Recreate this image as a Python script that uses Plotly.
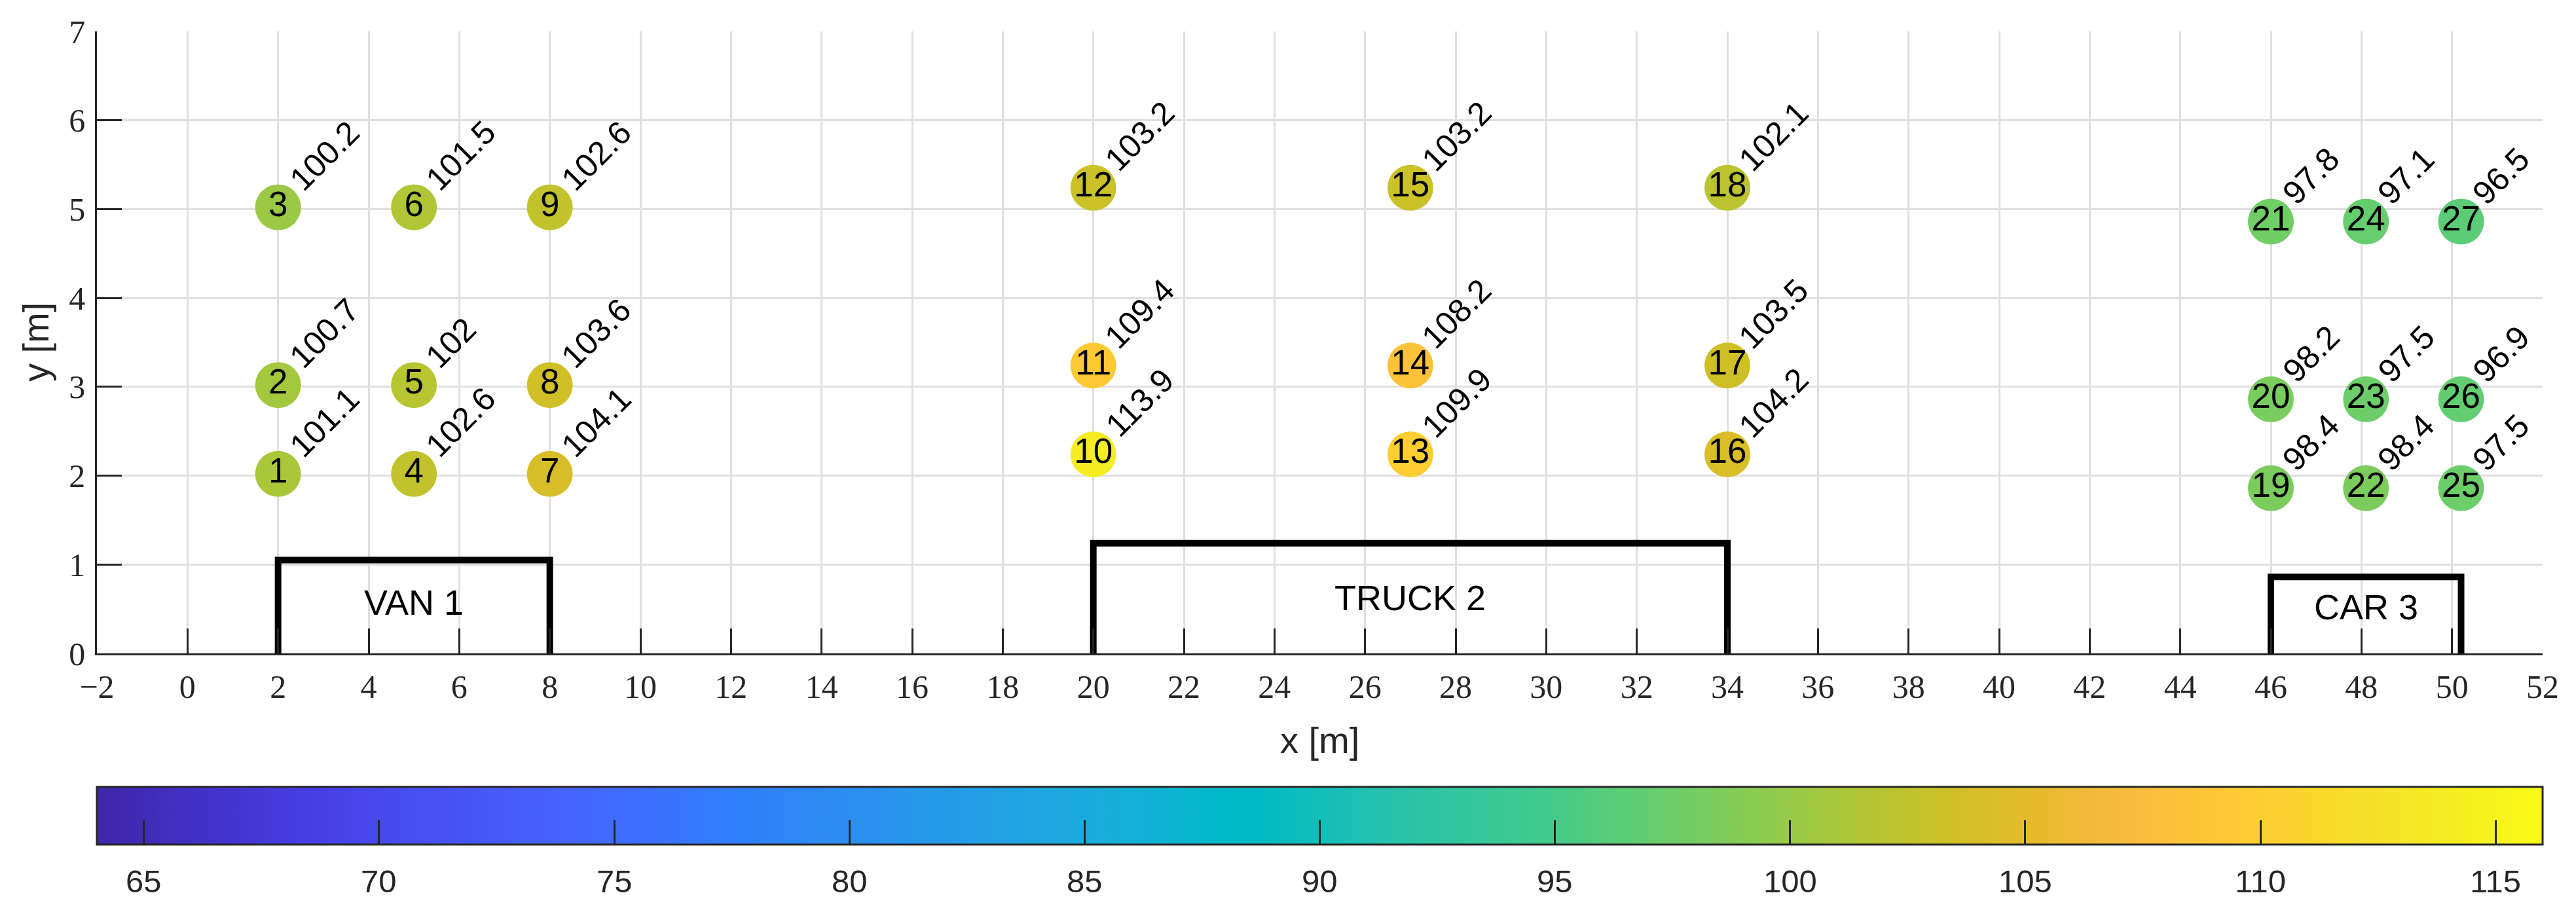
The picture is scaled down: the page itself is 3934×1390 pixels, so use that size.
import plotly.graph_objects as go

# ---------------- data ----------------
sensor_ids = list(range(1, 28))
sensor_x = [2, 2, 2, 5, 5, 5, 8, 8, 8,
            20, 20, 20, 27, 27, 27, 34, 34, 34,
            46, 46, 46, 48.1, 48.1, 48.1, 50.2, 50.2, 50.2]
sensor_y = [2.02, 3.02, 5.02] * 3 + [2.24, 3.24, 5.24] * 3 + [1.86, 2.86, 4.86] * 3
sensor_val = [101.1, 100.7, 100.2, 102.6, 102, 101.5, 104.1, 103.6, 102.6,
              113.9, 109.4, 103.2, 109.9, 108.2, 103.2, 104.2, 103.5, 102.1,
              98.4, 98.2, 97.8, 98.4, 97.5, 97.1, 97.5, 96.9, 96.5]
sensor_label = ["101.1", "100.7", "100.2", "102.6", "102", "101.5", "104.1", "103.6", "102.6",
                "113.9", "109.4", "103.2", "109.9", "108.2", "103.2", "104.2", "103.5", "102.1",
                "98.4", "98.2", "97.8", "98.4", "97.5", "97.1", "97.5", "96.9", "96.5"]

vehicle_names = ["VAN 1", "TRUCK 2", "CAR 3"]
vehicle_x0 = [2, 20, 46]
vehicle_x1 = [8, 34, 50.2]
vehicle_h = [1.05, 1.24, 0.86]
vehicle_label_y = [0.575, 0.63, 0.52]

x_ticks = list(range(-2, 53, 2))
y_ticks = list(range(0, 8))
cbar_ticks = list(range(65, 116, 5))
c_min, c_max = 64, 116

parula = [
    (0.2422, 0.1504, 0.6603), (0.2504, 0.1650, 0.7076), (0.2578, 0.1818, 0.7511), (0.2647, 0.1978, 0.7952),
    (0.2706, 0.2147, 0.8364), (0.2751, 0.2342, 0.8710), (0.2783, 0.2559, 0.8991), (0.2803, 0.2782, 0.9221),
    (0.2813, 0.3006, 0.9414), (0.2810, 0.3228, 0.9579), (0.2795, 0.3447, 0.9717), (0.2760, 0.3667, 0.9829),
    (0.2699, 0.3892, 0.9906), (0.2602, 0.4123, 0.9952), (0.2440, 0.4358, 0.9988), (0.2206, 0.4603, 0.9973),
    (0.1963, 0.4847, 0.9892), (0.1834, 0.5074, 0.9798), (0.1786, 0.5289, 0.9682), (0.1764, 0.5499, 0.9520),
    (0.1687, 0.5703, 0.9359), (0.1540, 0.5902, 0.9218), (0.1460, 0.6091, 0.9079), (0.1380, 0.6276, 0.8973),
    (0.1248, 0.6459, 0.8883), (0.1113, 0.6635, 0.8763), (0.0952, 0.6798, 0.8598), (0.0689, 0.6948, 0.8394),
    (0.0297, 0.7082, 0.8163), (0.0036, 0.7203, 0.7917), (0.0067, 0.7312, 0.7660), (0.0433, 0.7411, 0.7394),
    (0.0964, 0.7500, 0.7120), (0.1408, 0.7584, 0.6842), (0.1717, 0.7670, 0.6554), (0.1938, 0.7758, 0.6251),
    (0.2161, 0.7843, 0.5923), (0.2470, 0.7918, 0.5567), (0.2906, 0.7973, 0.5188), (0.3406, 0.8008, 0.4789),
    (0.3909, 0.8029, 0.4354), (0.4456, 0.8024, 0.3909), (0.5044, 0.7993, 0.3480), (0.5616, 0.7942, 0.3045),
    (0.6174, 0.7876, 0.2612), (0.6720, 0.7793, 0.2227), (0.7242, 0.7698, 0.1910), (0.7738, 0.7598, 0.1646),
    (0.8203, 0.7498, 0.1535), (0.8634, 0.7406, 0.1596), (0.9035, 0.7330, 0.1774), (0.9393, 0.7288, 0.2100),
    (0.9728, 0.7298, 0.2394), (0.9956, 0.7434, 0.2371), (0.9970, 0.7659, 0.2199), (0.9952, 0.7893, 0.2028),
    (0.9892, 0.8136, 0.1885), (0.9786, 0.8386, 0.1766), (0.9676, 0.8639, 0.1643), (0.9610, 0.8890, 0.1537),
    (0.9597, 0.9135, 0.1423), (0.9628, 0.9373, 0.1265), (0.9691, 0.9606, 0.1064), (0.9769, 0.9839, 0.0805),
]
colorscale = [[i / (len(parula) - 1), "rgb(%d,%d,%d)" % tuple(round(255 * c) for c in rgb)]
              for i, rgb in enumerate(parula)]

# ---------------- styling ----------------
# the page body has an 8px default margin, so the figure is drawn 8px smaller and
# all target page coordinates are shifted by that amount
OFF = 8
W, H = 3934 - OFF, 1390 - OFF
PLOT_L, PLOT_R, PLOT_T, PLOT_B = 148, 3883, 48, 998      # target page pixels of the plot area
ML, MT = PLOT_L - OFF, PLOT_T - OFF
MR = W - (PLOT_R - OFF)
MB = H - (PLOT_B - OFF)
plot_h = PLOT_B - PLOT_T
plot_w = PLOT_R - PLOT_L
AX = "#262626"
SANS = "Liberation Sans, Arial, Helvetica, sans-serif"
SERIF = "Liberation Serif, Times New Roman, serif"
NUM_FS = 53
LBL_FS = 50

def paper_y(page_px):
    return (PLOT_B - page_px) / plot_h

def paper_x(page_px):
    return (page_px - PLOT_L) / plot_w

fig = go.Figure()

# vehicles
for name, x0, x1, h, ly in zip(vehicle_names, vehicle_x0, vehicle_x1, vehicle_h, vehicle_label_y):
    fig.add_trace(go.Scatter(x=[x0, x0, x1, x1], y=[0, h, h, 0], mode="lines",
                             line=dict(color="black", width=10), hoverinfo="skip",
                             showlegend=False, cliponaxis=False))
    fig.add_annotation(x=(x0 + x1) / 2, y=ly, text=name, showarrow=False,
                       xanchor="center", yanchor="middle",
                       font=dict(family=SANS, size=54, color="black"))

# sensors
fig.add_trace(go.Scatter(
    x=sensor_x, y=sensor_y, mode="markers+text",
    text=[str(i) for i in sensor_ids], textposition="middle center",
    textfont=dict(family=SANS, size=NUM_FS, color="black"),
    marker=dict(size=70, color=sensor_val, colorscale=colorscale, cmin=c_min, cmax=c_max,
                line=dict(width=0), showscale=True,
                colorbar=dict(orientation="h", x=0, xanchor="left", len=1, lenmode="fraction",
                              y=paper_y(1202), yanchor="top",
                              thickness=88, thicknessmode="pixels", xpad=0, ypad=0,
                              outlinewidth=3, outlinecolor=AX,
                              tickmode="array", tickvals=cbar_ticks, showticklabels=False,
                              ticks="inside", ticklen=38, tickwidth=2.5, tickcolor=AX)),
    showlegend=False, cliponaxis=False, hoverinfo="skip"))

# colorbar tick labels
for v in cbar_ticks:
    fig.add_annotation(xref="paper", yref="paper", x=(v - c_min) / (c_max - c_min), y=paper_y(1346),
                       text=str(v), showarrow=False, xanchor="center", yanchor="middle",
                       font=dict(family=SANS, size=49, color=AX))

# rotated value labels
def text_len(s, fs):
    return sum(0.278 if ch == "." else 0.556 for ch in s) * fs

for x, y, lab in zip(sensor_x, sensor_y, sensor_label):
    L = text_len(lab, LBL_FS)
    fig.add_annotation(x=x, y=y, text=lab, showarrow=False, textangle=-45,
                       xanchor="center", yanchor="middle",
                       xshift=26.7 + 0.354 * L, yshift=34.7 + 0.354 * L,
                       font=dict(family=SANS, size=LBL_FS, color="black"))

# axis titles
fig.add_annotation(xref="paper", yref="paper", x=0.5, y=paper_y(1130),
                   text="x [m]", showarrow=False, xanchor="center", yanchor="middle",
                   font=dict(family=SANS, size=56, color=AX))
fig.add_annotation(xref="paper", yref="paper", x=paper_x(54), y=0.5,
                   text="y [m]", showarrow=False, textangle=-90, xanchor="center", yanchor="middle",
                   font=dict(family=SANS, size=56, color=AX))

axis_common = dict(showgrid=True, gridcolor="#dfdfdf", gridwidth=2.5, zeroline=False,
                   showline=True, linecolor=AX, linewidth=2.5, mirror=False,
                   ticks="inside", ticklen=38, tickwidth=2.5, tickcolor=AX,
                   tickfont=dict(family=SERIF, size=50, color=AX), automargin=False)

fig.update_layout(
    width=W, height=H, margin=dict(l=ML, r=MR, t=MT, b=MB, autoexpand=False),
    paper_bgcolor="white", plot_bgcolor="white",
    xaxis=dict(range=[-2, 52], tickmode="array", tickvals=x_ticks, ticklabelstandoff=5, **axis_common),
    yaxis=dict(range=[0, 7], tickmode="array", tickvals=y_ticks, ticklabelstandoff=5, **axis_common),
)

fig.write_html("out.html")
